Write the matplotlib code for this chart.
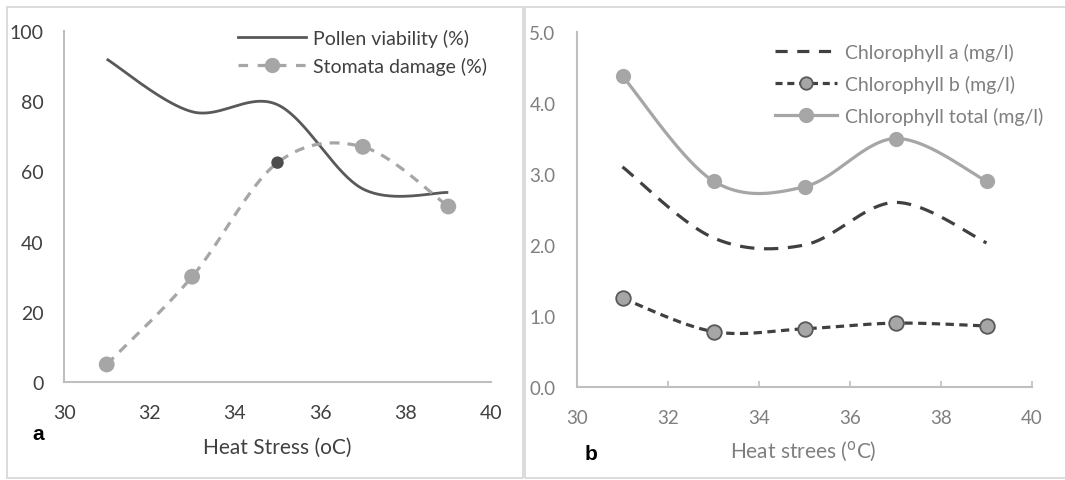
import numpy as np
import matplotlib
matplotlib.use("Agg")
import matplotlib.pyplot as plt
from matplotlib.lines import Line2D
from matplotlib.patches import Rectangle

plt.rcParams['font.family'] = ['Lato', 'DejaVu Sans']

# ---- data ----
temps = [31, 33, 35, 37, 39]
pollen_viability = [92, 77, 79, 55, 54]
stomata_damage = [5, 30, 62.5, 67, 50]
chl_a = [3.1, 2.1, 2.0, 2.6, 2.03]
chl_b = [1.25, 0.78, 0.82, 0.9, 0.86]
chl_total = [4.38, 2.9, 2.82, 3.5, 2.9]

x_ticks = [30, 32, 34, 36, 38, 40]
ya_ticks = [0, 20, 40, 60, 80, 100]
yb_ticks = [0.0, 1.0, 2.0, 3.0, 4.0, 5.0]


def smooth(ax, xs, ys, n=40):
    """Excel-like smoothed line (Catmull-Rom Bezier) computed in display space."""
    pts = ax.transData.transform(np.column_stack([xs, ys]))
    m = len(pts)
    out = []
    for i in range(m - 1):
        p0 = pts[i - 1] if i > 0 else pts[i]
        p1 = pts[i]
        p2 = pts[i + 1]
        p3 = pts[i + 2] if i + 2 < m else pts[i + 1]
        c1 = p1 + (p2 - p0) / 6.0
        c2 = p2 - (p3 - p1) / 6.0
        t = np.linspace(0, 1, n)[:, None]
        seg = ((1 - t) ** 3) * p1 + 3 * ((1 - t) ** 2) * t * c1 + 3 * (1 - t) * t ** 2 * c2 + t ** 3 * p2
        if i > 0:
            seg = seg[1:]
        out.append(seg)
    out = np.vstack(out)
    d = ax.transData.inverted().transform(out)
    return d[:, 0], d[:, 1]


W, H = 1065, 481
fig = plt.figure(figsize=(W / 100, H / 100), dpi=100)

def fx(px):
    return px / W

def fy(py):
    return 1 - py / H

# panel frames
fig.add_artist(Rectangle((fx(7), fy(479)), fx(523) - fx(7), fy(8) - fy(479),
                         transform=fig.transFigure, fill=False, ec='#d9d9d9', lw=1.3))
fig.add_artist(Rectangle((fx(525), fy(479)), fx(1070) - fx(525), fy(8) - fy(479),
                         transform=fig.transFigure, fill=False, ec='#d9d9d9', lw=1.3))

# ---------------- panel a ----------------
ax1 = fig.add_axes([fx(64), fy(383), fx(491) - fx(64), fy(32) - fy(383)])
ax1.set_xlim(30, 40)
ax1.set_ylim(0, 100)
ax1.set_xticks(x_ticks)
ax1.set_yticks(ya_ticks)
for s in ['top', 'right']:
    ax1.spines[s].set_visible(False)
for s in ['left', 'bottom']:
    ax1.spines[s].set_color('#bfbfbf')
    ax1.spines[s].set_linewidth(1.5)
ax1.tick_params(length=0, labelsize=14, labelcolor='#404040')
ax1.tick_params(axis='y', pad=14.5)
ax1.tick_params(axis='x', pad=16)

dark_a = '#595959'
grey = '#a6a6a6'
sx, sy = smooth(ax1, temps, pollen_viability)
ax1.plot(sx, sy, color=dark_a, lw=2.0, solid_capstyle='butt')
sx, sy = smooth(ax1, temps, stomata_damage)
ax1.plot(sx, sy, color=grey, lw=2.3, dashes=(3.1, 2.5))
marker_cols = [grey, grey, '#4d4d4d', grey, grey]
marker_sizes = [130, 130, 80, 130, 130]
ax1.scatter(temps, stomata_damage, s=marker_sizes, c=marker_cols, zorder=3, linewidths=0)

h1 = [Line2D([], [], color=dark_a, lw=2.0),
      Line2D([], [], color=grey, lw=2.3, dashes=(3, 3), marker='o', markersize=10,
             markerfacecolor=grey, markeredgecolor=grey)]
leg1 = ax1.legend(h1, ['Pollen viability (%)', 'Stomata damage (%)'],
                  loc='upper left', bbox_to_anchor=(fx(238), fy(30)),
                  bbox_transform=fig.transFigure, frameon=False, fontsize=14,
                  handlelength=3.5, handletextpad=0.35, labelspacing=0.5,
                  borderpad=0, borderaxespad=0)
for t in leg1.get_texts():
    t.set_color('#404040')

fig.text(fx(277), fy(448), 'Heat Stress (oC)', ha='center', va='center',
         fontsize=15, color='#404040')
fig.text(fx(38), fy(434), 'a', ha='center', va='center', fontsize=15,
         fontweight='bold', color='black', family=['Liberation Sans', 'DejaVu Sans'])

# ---------------- panel b ----------------
ax2 = fig.add_axes([fx(577), fy(388), fx(1032) - fx(577), fy(33) - fy(388)])
ax2.set_xlim(30, 40)
ax2.set_ylim(0, 5)
ax2.set_xticks(x_ticks)
ax2.set_yticks(yb_ticks)
ax2.set_yticklabels([f'{v:.1f}' for v in yb_ticks])
for s in ['top', 'right']:
    ax2.spines[s].set_visible(False)
for s in ['left', 'bottom']:
    ax2.spines[s].set_color('#bfbfbf')
    ax2.spines[s].set_linewidth(1.5)
ax2.tick_params(direction='in', length=4, width=1.2, color='#bfbfbf',
                labelsize=13.5, labelcolor='#7f7f7f')
ax2.tick_params(axis='y', pad=15.5, length=0)
ax2.tick_params(axis='x', pad=16)

dark_b = '#404040'
sx, sy = smooth(ax2, temps, chl_total)
ax2.plot(sx, sy, color=grey, lw=2.3)
ax2.scatter(temps, chl_total, s=120, color=grey, zorder=3, linewidths=0)
sx, sy = smooth(ax2, temps, chl_a)
ax2.plot(sx, sy, color=dark_b, lw=2.3, dashes=(4.5, 3))
sx, sy = smooth(ax2, temps, chl_b)
ax2.plot(sx, sy, color=dark_b, lw=2.3, dashes=(2.6, 1.7))
ax2.scatter(temps, chl_b, s=110, color=grey, edgecolors='#595959', linewidths=1.3, zorder=3)

h2 = [Line2D([], [], color=dark_b, lw=2.3, dashes=(3.8, 3)),
      Line2D([], [], color=dark_b, lw=2.3, dashes=(2.2, 1.5), marker='o', markersize=9,
             markerfacecolor=grey, markeredgecolor='#595959', markeredgewidth=1.3),
      Line2D([], [], color=grey, lw=2.3, marker='o', markersize=10,
             markerfacecolor=grey, markeredgecolor=grey)]
leg2 = ax2.legend(h2, ['Chlorophyll a (mg/l)', 'Chlorophyll b (mg/l)', 'Chlorophyll total (mg/l)'],
                  loc='upper left', bbox_to_anchor=(fx(775), fy(44)),
                  bbox_transform=fig.transFigure, frameon=False, fontsize=14,
                  handlelength=3.2, handletextpad=0.4, labelspacing=0.72,
                  borderpad=0, borderaxespad=0)
for t in leg2.get_texts():
    t.set_color('#7f7f7f')

fig.text(fx(803), fy(452), 'Heat strees ($^{\\mathrm{o}}$C)', ha='center', va='center',
         fontsize=15, color='#7f7f7f')
fig.text(fx(591), fy(455), 'b', ha='center', va='center', fontsize=15,
         fontweight='bold', color='black', family=['Liberation Sans', 'DejaVu Sans'])

fig.savefig('out.png', dpi=100, facecolor='white')
